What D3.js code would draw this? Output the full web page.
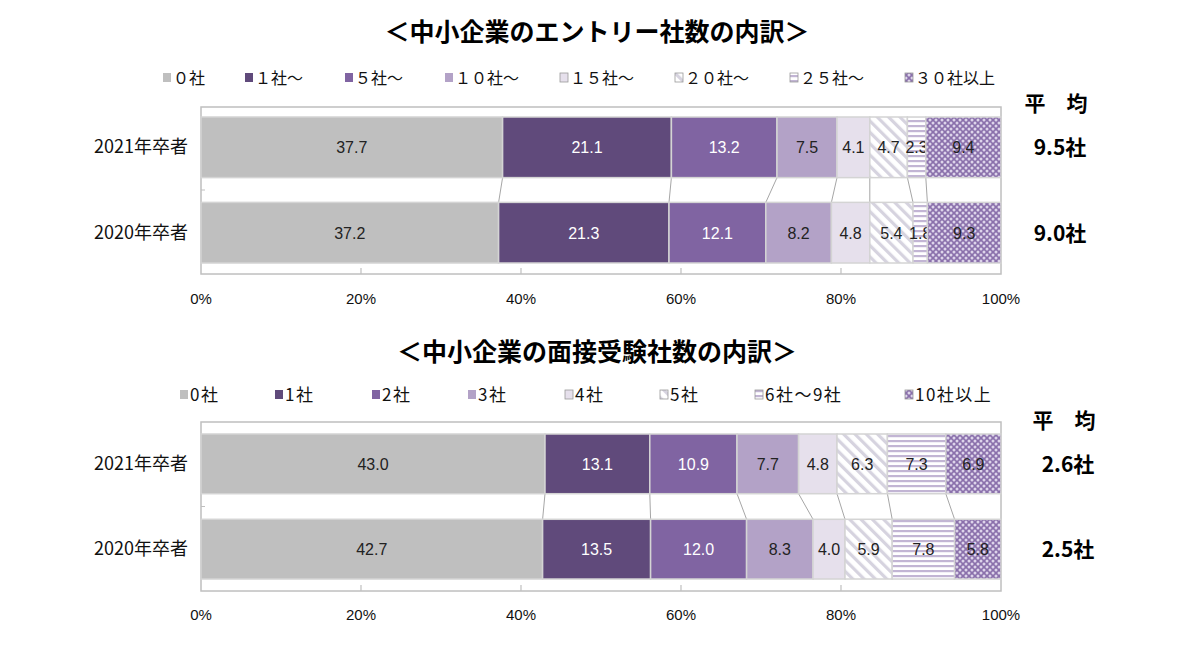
<!DOCTYPE html>
<html><head><meta charset="utf-8">
<script src="https://cdn.jsdelivr.net/npm/d3@7"></script>
<style>body{margin:0;background:#fff}svg{display:block}</style>
</head><body>
<svg id="c" width="1200" height="648"></svg>
<script>
const years = ["2021年卒者", "2020年卒者"];
const ticks = [0, 20, 40, 60, 80, 100];
const tickLabels = ["0%", "20%", "40%", "60%", "80%", "100%"];

const title1 = "＜中小企業のエントリー社数の内訳＞";
const cats1 = ["０社", "１社～", "５社～", "１０社～", "１５社～", "２０社～", "２５社～", "３０社以上"];
const vals1_2021 = [37.7, 21.1, 13.2, 7.5, 4.1, 4.7, 2.3, 9.4];
const vals1_2020 = [37.2, 21.3, 12.1, 8.2, 4.8, 5.4, 1.8, 9.3];
const avg1 = ["9.5社", "9.0社"];

const title2 = "＜中小企業の面接受験社数の内訳＞";
const cats2 = ["0社", "1社", "2社", "3社", "4社", "5社", "6社～9社", "10社以上"];
const vals2_2021 = [43.0, 13.1, 10.9, 7.7, 4.8, 6.3, 7.3, 6.9];
const vals2_2020 = [42.7, 13.5, 12.0, 8.3, 4.0, 5.9, 7.8, 5.8];
const avg2 = ["2.6社", "2.5社"];

const svg = d3.select("#c");
const defs = svg.append("defs");
const pDiag = defs.append("pattern").attr("id","pDiag").attr("patternUnits","userSpaceOnUse")
  .attr("width",8).attr("height",8).attr("patternTransform","rotate(-45)");
pDiag.append("rect").attr("width",8).attr("height",8).attr("fill","#fff");
pDiag.append("rect").attr("width",3.2).attr("height",8).attr("fill","#d6d3df");
const pHor = defs.append("pattern").attr("id","pHor").attr("patternUnits","userSpaceOnUse")
  .attr("width",6).attr("height",5);
pHor.append("rect").attr("width",6).attr("height",5).attr("fill","#fff");
pHor.append("rect").attr("width",6).attr("height",2.2).attr("fill","#c2b5d4");
const pDot = defs.append("pattern").attr("id","pDot").attr("patternUnits","userSpaceOnUse")
  .attr("width",6).attr("height",6);
pDot.append("rect").attr("width",6).attr("height",6).attr("fill","#8a70ab");
[[0,0],[6,0],[0,6],[6,6],[3,3]].forEach(p => pDot.append("circle").attr("cx",p[0]).attr("cy",p[1]).attr("r",1.5).attr("fill","#ddd4ea"));

const fills = ["#bfbfbf", "#604a7b", "#8064a2", "#b3a2c7", "#e6e0ec", "url(#pDiag)", "url(#pHor)", "url(#pDot)"];
const textCols = ["#222", "#fff", "#fff", "#222", "#222", "#222", "#222", "#222"];

const numFont = "'Liberation Sans',Arial,sans-serif";
const jpFont = "'Noto Sans CJK JP',sans-serif";

function drawChart(cfg) {
  const x = d3.scaleLinear().domain([0, 100]).range([201, 1001]);
  const y = d3.scaleBand().domain(years).range([cfg.barTop, cfg.barBot]).paddingInner(cfg.padIn).paddingOuter(0);
  const g = svg.append("g");

  g.append("text").attr("x", 597).attr("y", cfg.titleY).attr("text-anchor","middle")
    .attr("font-family", jpFont).attr("font-weight","bold").attr("font-size",25).attr("fill","#000").text(cfg.title);

  cfg.cats.forEach((c, i) => {
    const lx = cfg.legX[i];
    g.append("rect").attr("x", lx).attr("y", cfg.legY - 11).attr("width", 8).attr("height", 9)
      .attr("fill", fills[i]).attr("stroke", i >= 4 ? "#9a9a9a" : "none").attr("stroke-width", 0.8);
    g.append("text").attr("x", lx + 10).attr("y", cfg.legY).attr("font-family", jpFont)
      .attr("font-size", cfg.legSize).attr("letter-spacing", cfg.legSpacing).attr("fill", "#111").text(c);
  });

  g.append("rect").attr("x", x(0)).attr("y", cfg.boxTop).attr("width", x(100) - x(0)).attr("height", cfg.boxBot - cfg.boxTop)
    .attr("fill", "none").attr("stroke", "#bfbfbf").attr("stroke-width", 1.5);

  ticks.slice(1, -1).forEach(t => {
    g.append("line").attr("x1", x(t)).attr("x2", x(t)).attr("y1", cfg.boxBot).attr("y2", cfg.boxBot - 6)
      .attr("stroke", "#bfbfbf").attr("stroke-width", 1.2);
  });
  const midY = (y(years[0]) + y.bandwidth() + y(years[1])) / 2;
  g.append("line").attr("x1", x(0)).attr("x2", x(0) + 4).attr("y1", midY).attr("y2", midY).attr("stroke", "#bfbfbf");

  ticks.forEach((t, i) => {
    g.append("text").attr("x", x(t)).attr("y", cfg.axisY).attr("text-anchor", "middle")
      .attr("font-family", numFont).attr("font-size", 15).attr("fill", "#111").text(tickLabels[i]);
  });

  const series = [cfg.v2021, cfg.v2020];
  const cums = series.map(vs => { let s = 0; return vs.map(v => { const a = s; s += v; return [a, Math.min(s, 100)]; }); });

  for (let i = 0; i < cfg.cats.length - 1; i++) {
    g.append("line").attr("x1", x(cums[0][i][1])).attr("y1", y(years[0]) + y.bandwidth())
      .attr("x2", x(cums[1][i][1])).attr("y2", y(years[1]))
      .attr("stroke", "#a6a6a6").attr("stroke-width", 1);
  }

  years.forEach((yr, r) => {
    series[r].forEach((v, i) => {
      const [a, b] = cums[r][i];
      g.append("rect").attr("x", x(a)).attr("y", y(yr)).attr("width", x(b) - x(a)).attr("height", y.bandwidth())
        .attr("fill", fills[i]).attr("stroke", "#d4d4d4").attr("stroke-width", 1.5);
      g.append("text").attr("x", x((a + b) / 2)).attr("y", y(yr) + y.bandwidth() / 2 + 6).attr("text-anchor", "middle")
        .attr("font-family", numFont).attr("font-size", 16).attr("fill", textCols[i]).text(v.toFixed(1));
    });
    g.append("text").attr("x", 188).attr("y", y(yr) + y.bandwidth() / 2 + 6).attr("text-anchor", "end")
      .attr("font-family", jpFont).attr("font-size", 18).attr("fill", "#111").text(yr);
    g.append("text").attr("x", cfg.avgX).attr("y", y(yr) + y.bandwidth() / 2 + 8).attr("text-anchor", "middle")
      .attr("font-family", jpFont).attr("font-weight", "bold").attr("font-size", 21).attr("fill", "#000").text(cfg.avg[r]);
  });
  g.append("text").attr("x", cfg.avgX - 4).attr("y", cfg.heikinY).attr("text-anchor", "middle")
    .attr("font-family", jpFont).attr("font-weight", "bold").attr("font-size", 21).attr("fill", "#000")
    .text("平　均");
}

drawChart({ title: title1, titleY: 41, cats: cats1, legY: 84, legSize: 16, legSpacing: 0,
  legX: [163, 245, 345, 445, 560, 675, 790, 905],
  boxTop: 107, boxBot: 274, barTop: 117, barBot: 263, padIn: 0.29,
  axisY: 304, v2021: vals1_2021, v2020: vals1_2020, avg: avg1, avgX: 1060, heikinY: 111 });

drawChart({ title: title2, titleY: 361, cats: cats2, legY: 401, legSize: 17, legSpacing: 1.5,
  legX: [180, 275, 372, 468, 565, 660, 755, 905],
  boxTop: 422, boxBot: 591, barTop: 434, barBot: 579, padIn: 0.3,
  axisY: 620, v2021: vals2_2021, v2020: vals2_2020, avg: avg2, avgX: 1068, heikinY: 428 });
</script>
</body></html>
